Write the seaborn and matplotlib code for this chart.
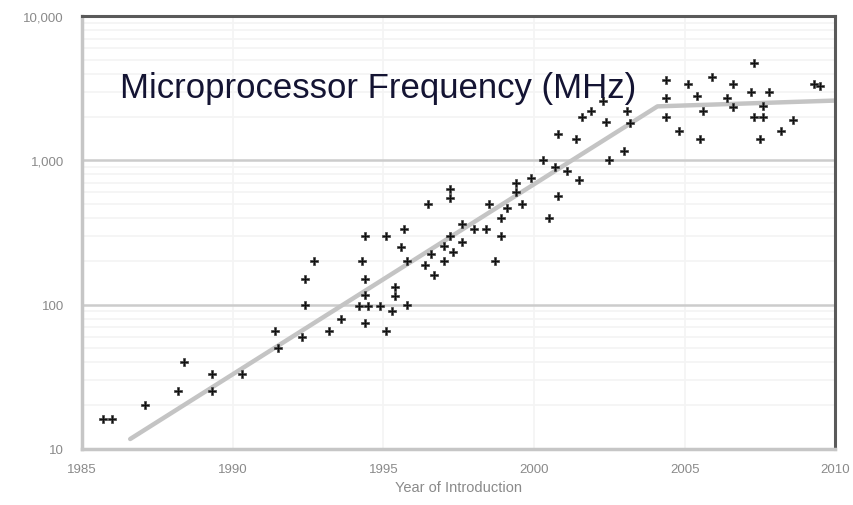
import numpy as np
import pandas as pd
import matplotlib
matplotlib.use("Agg")
import matplotlib.pyplot as plt
import matplotlib.ticker as mticker
import seaborn as sns

# values: year of introduction, clock frequency (MHz)
years = [1985.7, 1986.0, 1987.1, 1988.2, 1988.4, 1989.3, 1989.3, 1990.3,
         1991.4, 1991.5, 1992.3, 1992.4, 1992.4, 1992.7, 1993.2, 1993.6,
         1994.2, 1994.4, 1994.3, 1994.4, 1994.4, 1994.5, 1994.4, 1994.9,
         1995.1, 1995.1, 1995.3, 1995.4, 1995.4, 1995.6, 1995.7, 1995.8,
         1995.8, 1996.5, 1996.6, 1996.7, 1996.4, 1997.0, 1997.0, 1997.2,
         1997.2, 1997.2, 1997.6, 1997.6, 1997.3, 1998.0, 1998.4, 1998.5,
         1998.7, 1998.9, 1998.9, 1999.1, 1999.4, 1999.6, 1999.4, 1999.9,
         2000.3, 2000.5, 2000.7, 2000.8, 2000.8, 2001.1, 2001.4, 2001.5,
         2001.6, 2001.9, 2002.3, 2002.4, 2002.5, 2003.0, 2003.1, 2003.2,
         2004.4, 2004.4, 2004.4, 2004.8, 2005.1, 2005.4, 2005.6, 2005.5,
         2005.9, 2006.6, 2006.4, 2006.6, 2007.3, 2007.2, 2007.8, 2007.6,
         2007.6, 2007.3, 2007.5, 2008.2, 2008.6, 2009.5, 2009.3]
mhz = [16, 16, 20, 25, 40, 33, 25, 33,
       66, 50, 60, 100, 150, 200, 66, 80,
       98, 300, 200, 150, 117, 98, 75, 98,
       66, 300, 90, 133, 115, 250, 333, 100,
       200, 500, 225, 160, 187, 200, 257, 545,
       630, 300, 360, 270, 230, 337, 337, 500,
       200, 400, 300, 466, 600, 500, 700, 750,
       1000, 400, 900, 570, 1530, 840, 1400, 733,
       2000, 2200, 2600, 1860, 1000, 1170, 2200, 1830,
       2700, 3600, 2000, 1600, 3400, 2800, 2200, 1400,
       3800, 3400, 2700, 2330, 4700, 3000, 3000, 2400,
       2000, 2000, 1400, 1600, 1900, 3300, 3400]

# trend line
trend_years = [1986.6, 2004.1, 2010.0]
trend_mhz = [11.7, 2370, 2600]

df = pd.DataFrame({"year": years, "mhz": mhz})
trend = pd.DataFrame({"year": trend_years, "mhz": trend_mhz})

sns.set_style("white")
plt.rcParams["font.family"] = ["Liberation Sans", "DejaVu Sans"]

fig = plt.figure(figsize=(8.54, 5.06), dpi=100)
ax = fig.add_axes([0.096, 0.111, 0.882, 0.855])
ax.set_yscale("log")

sns.lineplot(data=trend, x="year", y="mhz", color="#c4c4c4", linewidth=3.2,
             ax=ax, zorder=2)
sns.scatterplot(data=df, x="year", y="mhz", marker="P", s=40, color="#111111",
                edgecolor="#444444", linewidth=0.5, ax=ax, zorder=3)

ax.set_xlim(1985, 2010)
ax.set_ylim(10, 10000)

# grid
ax.yaxis.set_major_locator(mticker.LogLocator(base=10, numticks=10))
ax.yaxis.set_minor_locator(mticker.LogLocator(base=10, subs=np.arange(2, 10), numticks=10))
ax.yaxis.set_minor_formatter(mticker.NullFormatter())
ax.yaxis.set_major_formatter(mticker.FuncFormatter(lambda v, p: f"{int(v):,}"))
ax.set_xticks([1985, 1990, 1995, 2000, 2005, 2010])
ax.grid(axis="y", which="major", color="#cccccc", linewidth=1.8)
ax.grid(axis="y", which="minor", color="#f4f4f4", linewidth=1.2)
ax.grid(axis="x", which="major", color="#f3f3f3", linewidth=1.2)
ax.set_axisbelow(True)

ax.tick_params(axis="y", which="both", length=5, width=1.5, color="#cccccc",
               labelsize=9.5, labelcolor="#8a8a8a", pad=8)
ax.tick_params(axis="x", length=0, labelsize=9.5, labelcolor="#8a8a8a", pad=10)

for side in ["left", "bottom"]:
    ax.spines[side].set_color("#c6c6c6")
    ax.spines[side].set_linewidth(2.5)
for side in ["top", "right"]:
    ax.spines[side].set_color("#5a5a5a")
    ax.spines[side].set_linewidth(2.2)

ax.set_xlabel("Year of Introduction", fontsize=10.5, color="#8a8a8a", labelpad=4)
ax.set_ylabel("")

ax.text(0.05, 0.835, "Microprocessor Frequency (MHz)", transform=ax.transAxes,
        fontsize=25, color="#141433", va="center", ha="left")

plt.savefig("out.png", dpi=100)
plt.close()
